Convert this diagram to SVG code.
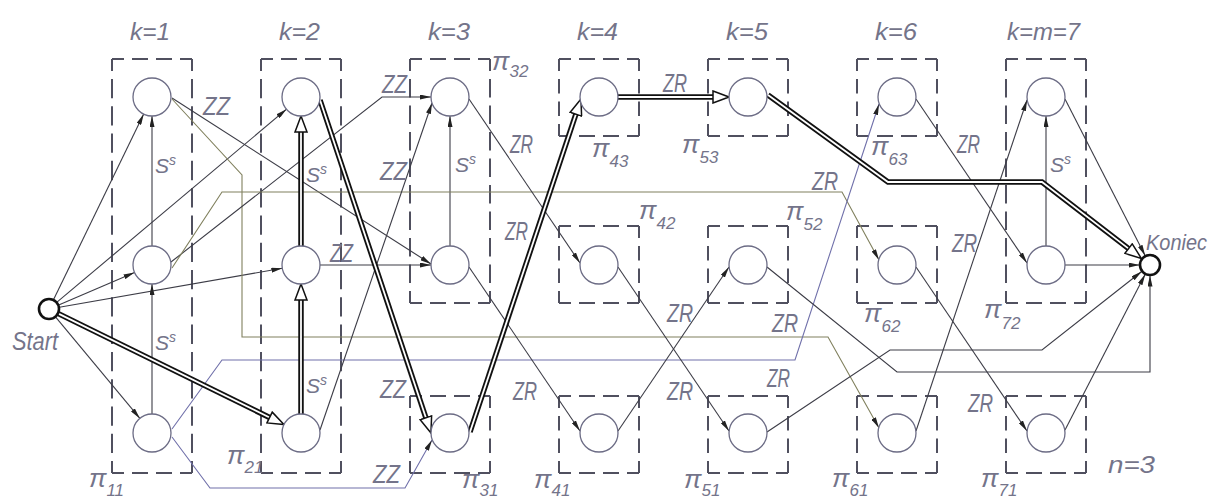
<svg xmlns="http://www.w3.org/2000/svg" width="1215" height="499" viewBox="0 0 1215 499">
<style>
.bx line{stroke:#50505f;stroke-width:2;fill:none}
.h80{stroke-dasharray:12 8 16 8 16 8 12 300}
.v77{stroke-dasharray:12 8 14.5 8 14.5 8 12 300}
.v244{stroke-dasharray:12 8 18.5 8 18.5 8 18.5 8 18.5 8 18.5 8 18.5 8 18.5 8 18.5 8 12 400}
.v414{stroke-dasharray:12 8 19.29 8 19.29 8 19.29 8 19.29 8 19.29 8 19.29 8 19.29 8 19.29 8 19.29 8 19.29 8 19.29 8 19.29 8 19.29 8 19.29 8 12 600}
.c{fill:#fff;stroke:#6c6c85;stroke-width:1.3}
.se{fill:#fff;stroke:#111;stroke-width:2.6}
.e{fill:none;stroke:#3c3c46;stroke-width:1.1;marker-end:url(#a)}
.ol{stroke:#80805e}
.bl{stroke:#7070aa}
.tk{fill:none;stroke:#111;stroke-width:5.5;stroke-linejoin:miter}
.ti{fill:none;stroke:#fff;stroke-width:1.8;stroke-linejoin:miter;marker-end:url(#h)}
text{font-family:"Liberation Sans",Arial,sans-serif;font-style:italic;fill:#74748a}
.hd{font-size:23px}
.lb{font-size:26px}
.kn{font-size:22px}
.pi{font-size:26px}
.sub{font-size:17px}
.ss{font-size:21px}
.sup{font-size:14px}
</style>
<defs>
<marker id="a" viewBox="0 0 11 5" refX="11" refY="2.5" markerWidth="11" markerHeight="5" markerUnits="userSpaceOnUse" orient="auto"><path d="M0,0 L11,2.5 L0,5 z" fill="#222"/></marker>
<marker id="h" viewBox="-1 -7 18 14" refX="0" refY="0" markerWidth="18" markerHeight="14" markerUnits="userSpaceOnUse" orient="auto"><path d="M0,-6 L16,0 L0,6 z" fill="#fff" stroke="#111" stroke-width="1.5" stroke-linejoin="miter"/></marker>
</defs>
<rect width="1215" height="499" fill="#fff"/>

<g id="headers">
<text class="hd" x="130" y="40" textLength="40" lengthAdjust="spacingAndGlyphs">k=1</text>
<text class="hd" x="279" y="40" textLength="41" lengthAdjust="spacingAndGlyphs">k=2</text>
<text class="hd" x="428" y="40" textLength="42" lengthAdjust="spacingAndGlyphs">k=3</text>
<text class="hd" x="577" y="40" textLength="41" lengthAdjust="spacingAndGlyphs">k=4</text>
<text class="hd" x="726" y="40" textLength="42" lengthAdjust="spacingAndGlyphs">k=5</text>
<text class="hd" x="875" y="40" textLength="42" lengthAdjust="spacingAndGlyphs">k=6</text>
<text class="hd" x="1007" y="40" textLength="73" lengthAdjust="spacingAndGlyphs">k=m=7</text>
<text class="hd" x="1108" y="473" textLength="47" lengthAdjust="spacingAndGlyphs">n=3</text>
</g>

<g id="boxes" class="bx">
<g id="box1"><line class="h80" x1="112" y1="59" x2="192" y2="59"/><line class="h80" x1="112" y1="473" x2="192" y2="473"/><line class="v414" x1="112" y1="59" x2="112" y2="473"/><line class="v414" x1="192" y1="59" x2="192" y2="473"/></g>
<g id="box2"><line class="h80" x1="261" y1="59" x2="341" y2="59"/><line class="h80" x1="261" y1="473" x2="341" y2="473"/><line class="v414" x1="261" y1="59" x2="261" y2="473"/><line class="v414" x1="341" y1="59" x2="341" y2="473"/></g>
<g id="box3a"><line class="h80" x1="410" y1="59" x2="490" y2="59"/><line class="h80" x1="410" y1="303" x2="490" y2="303"/><line class="v244" x1="410" y1="59" x2="410" y2="303"/><line class="v244" x1="490" y1="59" x2="490" y2="303"/></g>
<g id="box3b"><line class="h80" x1="410" y1="396" x2="490" y2="396"/><line class="h80" x1="410" y1="473" x2="490" y2="473"/><line class="v77" x1="410" y1="396" x2="410" y2="473"/><line class="v77" x1="490" y1="396" x2="490" y2="473"/></g>
<g id="box4a"><line class="h80" x1="559" y1="59" x2="639" y2="59"/><line class="h80" x1="559" y1="136" x2="639" y2="136"/><line class="v77" x1="559" y1="59" x2="559" y2="136"/><line class="v77" x1="639" y1="59" x2="639" y2="136"/></g>
<g id="box4b"><line class="h80" x1="559" y1="226" x2="639" y2="226"/><line class="h80" x1="559" y1="303" x2="639" y2="303"/><line class="v77" x1="559" y1="226" x2="559" y2="303"/><line class="v77" x1="639" y1="226" x2="639" y2="303"/></g>
<g id="box4c"><line class="h80" x1="559" y1="396" x2="639" y2="396"/><line class="h80" x1="559" y1="473" x2="639" y2="473"/><line class="v77" x1="559" y1="396" x2="559" y2="473"/><line class="v77" x1="639" y1="396" x2="639" y2="473"/></g>
<g id="box5a"><line class="h80" x1="708" y1="59" x2="788" y2="59"/><line class="h80" x1="708" y1="136" x2="788" y2="136"/><line class="v77" x1="708" y1="59" x2="708" y2="136"/><line class="v77" x1="788" y1="59" x2="788" y2="136"/></g>
<g id="box5b"><line class="h80" x1="708" y1="226" x2="788" y2="226"/><line class="h80" x1="708" y1="303" x2="788" y2="303"/><line class="v77" x1="708" y1="226" x2="708" y2="303"/><line class="v77" x1="788" y1="226" x2="788" y2="303"/></g>
<g id="box5c"><line class="h80" x1="708" y1="396" x2="788" y2="396"/><line class="h80" x1="708" y1="473" x2="788" y2="473"/><line class="v77" x1="708" y1="396" x2="708" y2="473"/><line class="v77" x1="788" y1="396" x2="788" y2="473"/></g>
<g id="box6a"><line class="h80" x1="857" y1="59" x2="937" y2="59"/><line class="h80" x1="857" y1="136" x2="937" y2="136"/><line class="v77" x1="857" y1="59" x2="857" y2="136"/><line class="v77" x1="937" y1="59" x2="937" y2="136"/></g>
<g id="box6b"><line class="h80" x1="857" y1="226" x2="937" y2="226"/><line class="h80" x1="857" y1="303" x2="937" y2="303"/><line class="v77" x1="857" y1="226" x2="857" y2="303"/><line class="v77" x1="937" y1="226" x2="937" y2="303"/></g>
<g id="box6c"><line class="h80" x1="857" y1="396" x2="937" y2="396"/><line class="h80" x1="857" y1="473" x2="937" y2="473"/><line class="v77" x1="857" y1="396" x2="857" y2="473"/><line class="v77" x1="937" y1="396" x2="937" y2="473"/></g>
<g id="box7a"><line class="h80" x1="1006" y1="59" x2="1086" y2="59"/><line class="h80" x1="1006" y1="303" x2="1086" y2="303"/><line class="v244" x1="1006" y1="59" x2="1006" y2="303"/><line class="v244" x1="1086" y1="59" x2="1086" y2="303"/></g>
<g id="box7b"><line class="h80" x1="1006" y1="396" x2="1086" y2="396"/><line class="h80" x1="1006" y1="473" x2="1086" y2="473"/><line class="v77" x1="1006" y1="396" x2="1006" y2="473"/><line class="v77" x1="1086" y1="396" x2="1086" y2="473"/></g>
</g>

<g id="connectors">
<path class="e" d="M53.6,299.6 L143.7,114.1"/>
<path class="e" d="M57,302.2 L286.5,109.2"/>
<path class="e" d="M58.7,304.9 L134.5,272.5"/>
<path class="e" d="M59.3,307.2 L282.3,268.3"/>
<path class="e" d="M55.7,317.1 L139.9,418.4"/>
<path class="e" d="M152,414 L152,284"/>
<path class="e" d="M152,246 L152,116"/>
<path class="e" d="M450,246 L450,116"/>
<path class="e" d="M1046,246 L1046,116"/>
<path class="e" d="M172,98 L431,264"/>
<path class="e ol" d="M172,99 L242,175 L242,337 L828,337 L879,428"/>
<path class="e" d="M171,262 L382,97 L431,97"/>
<path class="e ol" d="M172,268 L222,192 L842,192 L879,260"/>
<path class="e bl" d="M172,437 L210,488 L405,488 L432,440"/>
<path class="e bl" d="M172,429 L222,360 L795,360 L879,104"/>
<path class="e" d="M320,430 L432,103"/>
<path class="e" d="M320,265 L431,265"/>
<path class="e" d="M469,99 L580,263"/>
<path class="e" d="M469,267 L580,431"/>
<path class="e" d="M618,431 L729,267"/>
<path class="e" d="M618,267 L729,431"/>
<path class="e" d="M767,432 L890,350 L1042,350 L1141.7,271.5"/>
<path class="e" d="M767,267 L897,372 L1150,372 L1150,275.5"/>
<path class="e" d="M916,431 L1027,100"/>
<path class="e" d="M916,267 L1027,431"/>
<path class="e" d="M916,99 L1027,263"/>
<path class="e" d="M1065,265 L1139.5,265"/>
<path class="e" d="M1065,99 L1145.2,255.7"/>
<path class="e" d="M1065,430 L1145.2,274.3"/>
<g id="critical">
<path class="tk" d="M58.4,313.6 L269.6,417.5"/>
<path class="ti" d="M58.4,313.6 L269.6,417.5"/>
<path class="tk" d="M301,414 L301,300"/>
<path class="ti" d="M301,414 L301,300"/>
<path class="tk" d="M301,246 L301,132"/>
<path class="ti" d="M301,246 L301,132"/>
<path class="tk" d="M320,100 L425.9,417.8"/>
<path class="ti" d="M320,100 L425.9,417.8"/>
<path class="tk" d="M470,432 L575.9,114.2"/>
<path class="ti" d="M470,432 L575.9,114.2"/>
<path class="tk" d="M618,97 L713,97"/>
<path class="ti" d="M618,97 L713,97"/>
<path class="tk" d="M768,95 L888,182 L1042,182 L1128.6,248.6"/>
<path class="ti" d="M768,95 L888,182 L1042,182 L1128.6,248.6"/>
</g>
<g id="edge-labels">
<text class="lb" x="203" y="115" textLength="27" lengthAdjust="spacingAndGlyphs">ZZ</text>
<text class="lb" x="382" y="93" textLength="25" lengthAdjust="spacingAndGlyphs">ZZ</text>
<text class="lb" x="380" y="180" textLength="27" lengthAdjust="spacingAndGlyphs">ZZ</text>
<text class="lb" x="330" y="262" textLength="23" lengthAdjust="spacingAndGlyphs">ZZ</text>
<text class="lb" x="380" y="398" textLength="26" lengthAdjust="spacingAndGlyphs">ZZ</text>
<text class="lb" x="373" y="483" textLength="27" lengthAdjust="spacingAndGlyphs">ZZ</text>
<text class="lb" x="510" y="153" textLength="23" lengthAdjust="spacingAndGlyphs">ZR</text>
<text class="lb" x="505" y="240" textLength="23" lengthAdjust="spacingAndGlyphs">ZR</text>
<text class="lb" x="663" y="92" textLength="24" lengthAdjust="spacingAndGlyphs">ZR</text>
<text class="lb" x="513" y="400" textLength="24" lengthAdjust="spacingAndGlyphs">ZR</text>
<text class="lb" x="667" y="322" textLength="26" lengthAdjust="spacingAndGlyphs">ZR</text>
<text class="lb" x="667" y="400" textLength="26" lengthAdjust="spacingAndGlyphs">ZR</text>
<text class="lb" x="772" y="332" textLength="26" lengthAdjust="spacingAndGlyphs">ZR</text>
<text class="lb" x="767" y="387" textLength="23" lengthAdjust="spacingAndGlyphs">ZR</text>
<text class="lb" x="812" y="190" textLength="26" lengthAdjust="spacingAndGlyphs">ZR</text>
<text class="lb" x="957" y="153" textLength="23" lengthAdjust="spacingAndGlyphs">ZR</text>
<text class="lb" x="952" y="252" textLength="25" lengthAdjust="spacingAndGlyphs">ZR</text>
<text class="lb" x="968" y="412" textLength="25" lengthAdjust="spacingAndGlyphs">ZR</text>
<text class="ss" x="155" y="173">S<tspan class="sup" dy="-8">s</tspan></text>
<text class="ss" x="155" y="350">S<tspan class="sup" dy="-8">s</tspan></text>
<text class="ss" x="306" y="182">S<tspan class="sup" dy="-8">s</tspan></text>
<text class="ss" x="306" y="393">S<tspan class="sup" dy="-8">s</tspan></text>
<text class="ss" x="455" y="172">S<tspan class="sup" dy="-8">s</tspan></text>
<text class="ss" x="1050" y="172">S<tspan class="sup" dy="-8">s</tspan></text>
</g>
</g>

<g id="nodes">
<g id="start"><circle class="se" cx="49" cy="309" r="10"/><text class="lb" x="12" y="350" textLength="46" lengthAdjust="spacingAndGlyphs">Start</text></g>
<g id="koniec"><circle class="se" cx="1150" cy="265" r="10"/><text class="kn" x="1146" y="250" textLength="61" lengthAdjust="spacingAndGlyphs">Koniec</text></g>
<g id="n11"><circle class="c" cx="152" cy="433" r="19"/><text class="pi" x="89" y="487">π<tspan class="sub" dy="9">11</tspan></text></g>
<g id="n12"><circle class="c" cx="152" cy="265" r="19"/></g>
<g id="n13"><circle class="c" cx="152" cy="97" r="19"/></g>
<g id="n21"><circle class="c" cx="301" cy="433" r="19"/><text class="pi" x="227" y="464">π<tspan class="sub" dy="9">21</tspan></text></g>
<g id="n22"><circle class="c" cx="301" cy="265" r="19"/></g>
<g id="n23"><circle class="c" cx="301" cy="97" r="19"/></g>
<g id="n31"><circle class="c" cx="450" cy="433" r="19"/><text class="pi" x="462" y="488">π<tspan class="sub" dy="8">31</tspan></text></g>
<g id="n32"><circle class="c" cx="450" cy="265" r="19"/><text class="pi" x="492" y="70">π<tspan class="sub" dy="7">32</tspan></text></g>
<g id="n33"><circle class="c" cx="450" cy="97" r="19"/></g>
<g id="n41"><circle class="c" cx="599" cy="433" r="19"/><text class="pi" x="534" y="488">π<tspan class="sub" dy="8">41</tspan></text></g>
<g id="n42"><circle class="c" cx="599" cy="265" r="19"/><text class="pi" x="639" y="219">π<tspan class="sub" dy="10">42</tspan></text></g>
<g id="n43"><circle class="c" cx="599" cy="97" r="19"/><text class="pi" x="592" y="157">π<tspan class="sub" dy="10">43</tspan></text></g>
<g id="n51"><circle class="c" cx="748" cy="433" r="19"/><text class="pi" x="684" y="488">π<tspan class="sub" dy="8">51</tspan></text></g>
<g id="n52"><circle class="c" cx="748" cy="265" r="19"/><text class="pi" x="786" y="220">π<tspan class="sub" dy="10">52</tspan></text></g>
<g id="n53"><circle class="c" cx="748" cy="97" r="19"/><text class="pi" x="682" y="153">π<tspan class="sub" dy="10">53</tspan></text></g>
<g id="n61"><circle class="c" cx="897" cy="433" r="19"/><text class="pi" x="832" y="487">π<tspan class="sub" dy="9">61</tspan></text></g>
<g id="n62"><circle class="c" cx="897" cy="265" r="19"/><text class="pi" x="864" y="322">π<tspan class="sub" dy="10">62</tspan></text></g>
<g id="n63"><circle class="c" cx="897" cy="97" r="19"/><text class="pi" x="871" y="155">π<tspan class="sub" dy="10">63</tspan></text></g>
<g id="n71"><circle class="c" cx="1046" cy="433" r="19"/><text class="pi" x="981" y="487">π<tspan class="sub" dy="9">71</tspan></text></g>
<g id="n72"><circle class="c" cx="1046" cy="265" r="19"/><text class="pi" x="984" y="318">π<tspan class="sub" dy="11">72</tspan></text></g>
<g id="n73"><circle class="c" cx="1046" cy="97" r="19"/></g>
</g>
</svg>
